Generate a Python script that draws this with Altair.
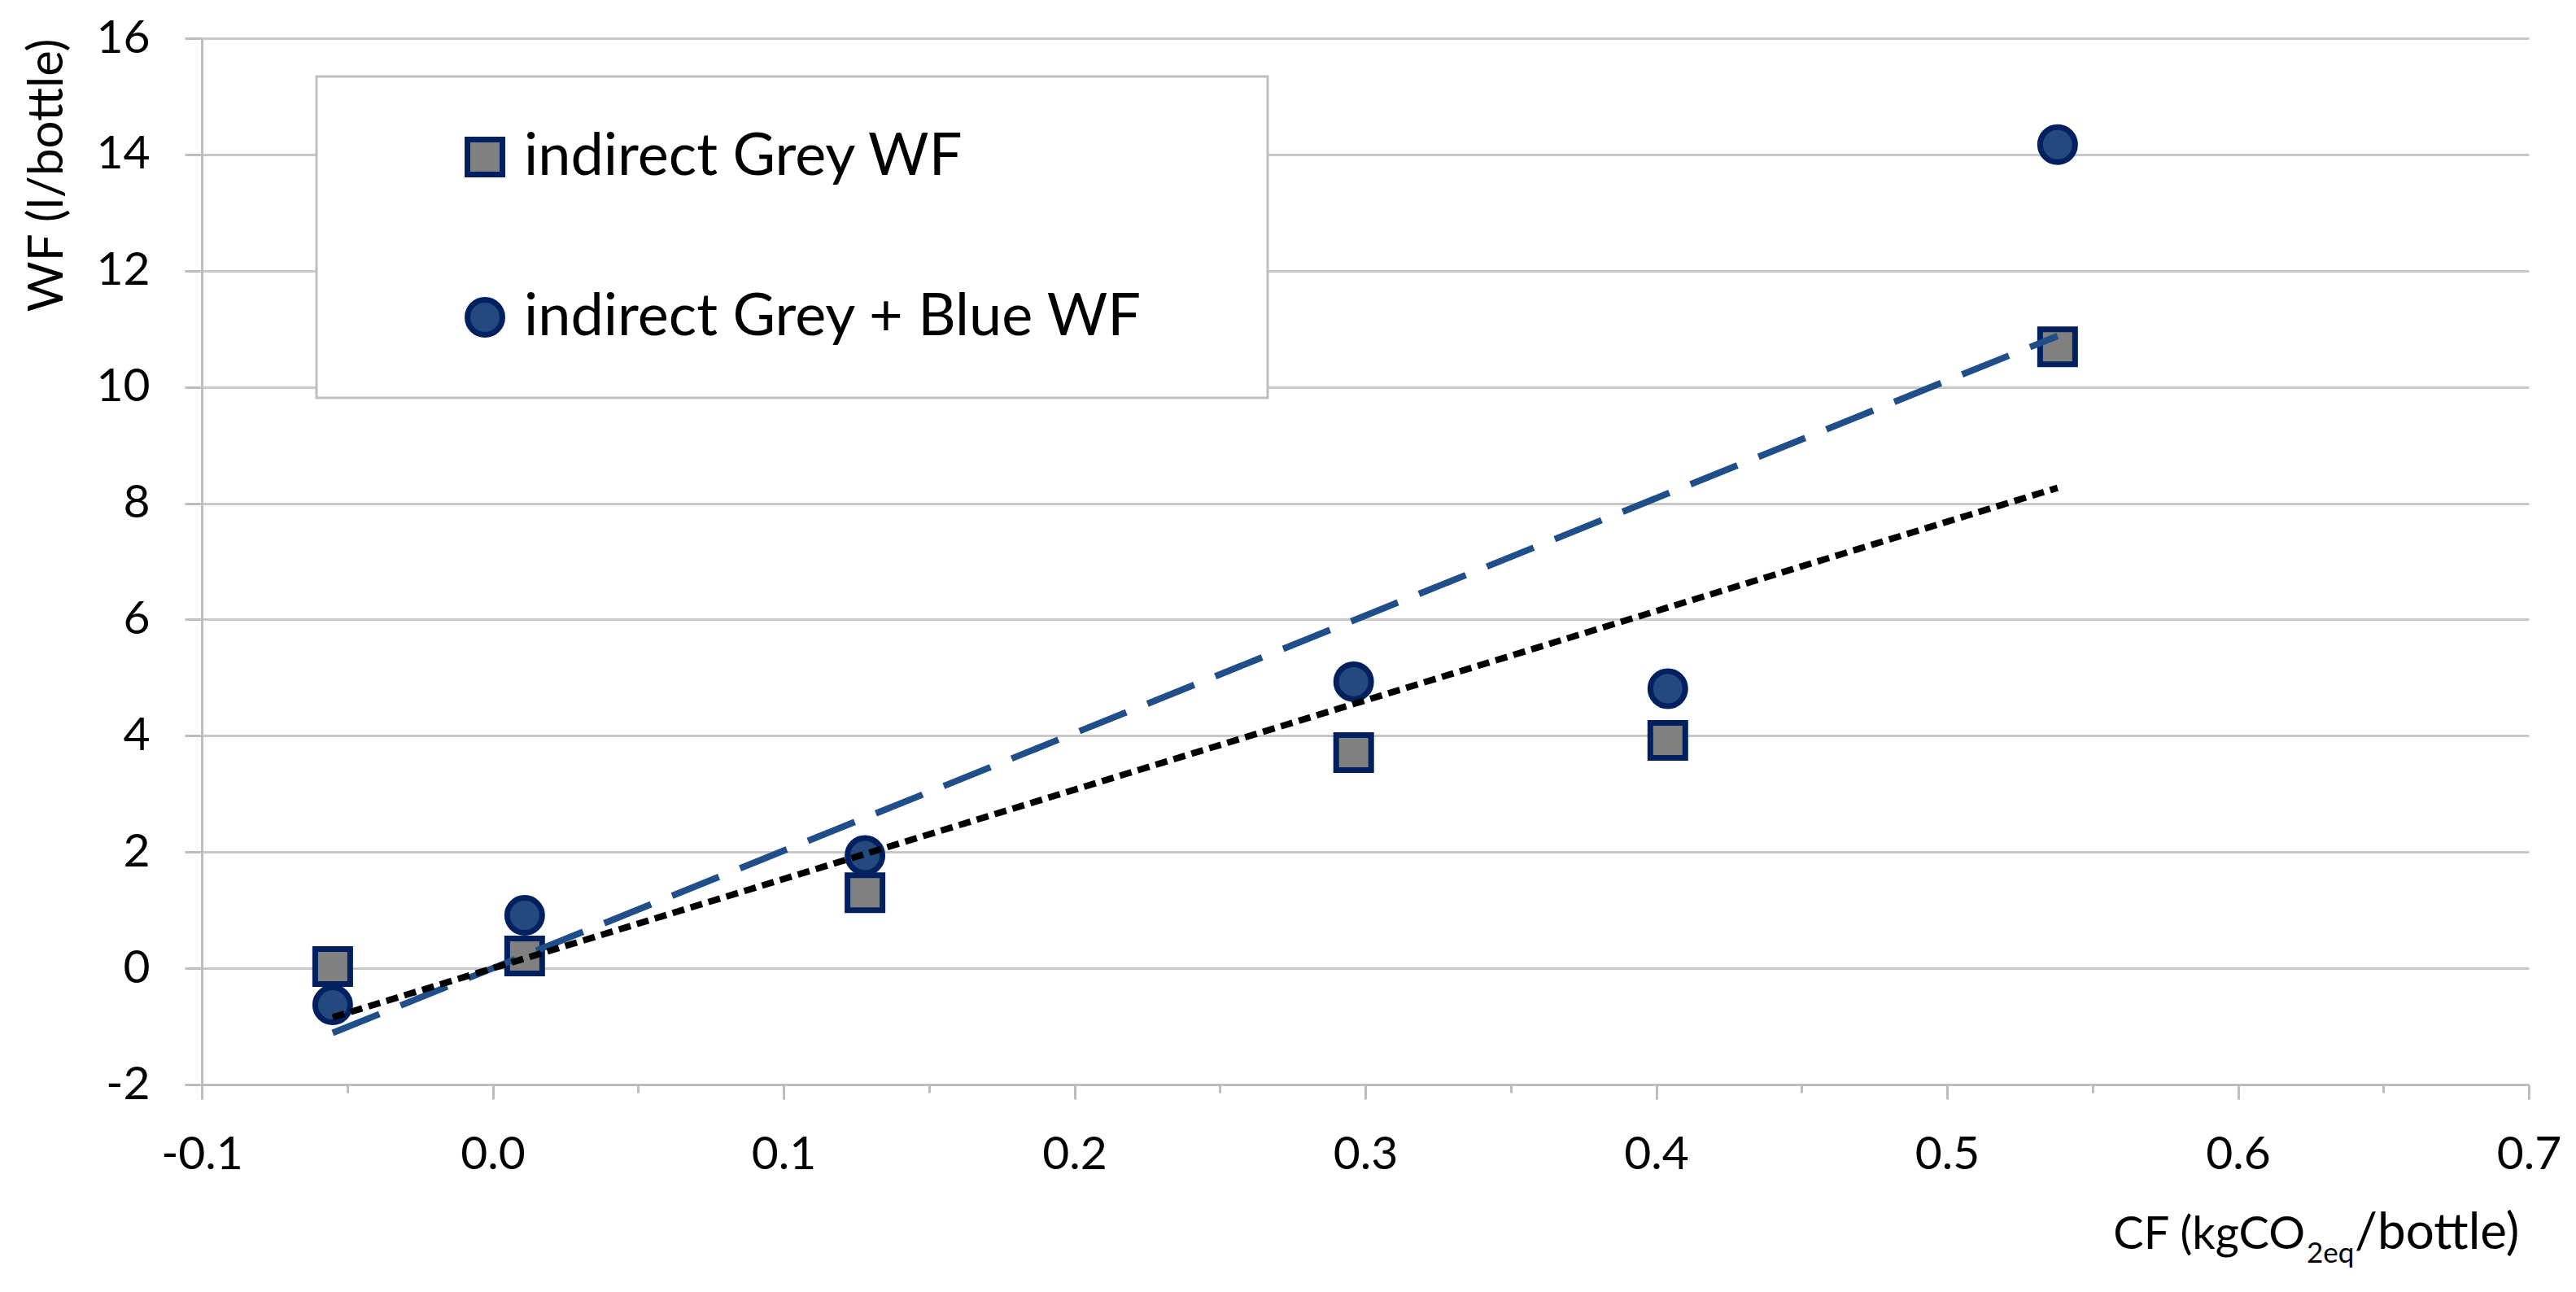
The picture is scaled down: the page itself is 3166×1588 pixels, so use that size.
import altair as alt
import pandas as pd

# ---- data ----
series_names = ["indirect Grey WF", "indirect Grey + Blue WF"]
fit_names = ["trend of indirect Grey WF", "trend of indirect Grey + Blue WF"]
cf_values = [-0.055, 0.011, 0.128, 0.296, 0.404, 0.538]
grey_wf = [0.03, 0.21, 1.30, 3.71, 3.92, 10.69]
grey_blue_wf = [-0.63, 0.91, 1.94, 4.93, 4.81, 14.17]

x_ticks = [-0.1, -0.05, 0.0, 0.05, 0.1, 0.15, 0.2, 0.25, 0.3, 0.35,
           0.4, 0.45, 0.5, 0.55, 0.6, 0.65, 0.7]
y_ticks = [-2, 0, 2, 4, 6, 8, 10, 12, 14, 16]

x_title_parts = ["CF (kgCO", "2eq", "/bottle)"]
y_title = "WF (l/bottle)"

FONT = "Lato"
NAVY = "#002060"
GREY_FILL = "#808080"
BLUE_FILL = "#23497F"
DASH_BLUE = "#1F4E89"
AXIS_GREY = "#BDBDBD"

W, H = 2860, 1286

# circles first so that squares are painted over them
rows = []
for x, y in zip(cf_values, grey_blue_wf):
    rows.append({"series": series_names[1], "fit_series": fit_names[1], "cf": x, "wf": y, "ord": 1})
for x, y in zip(cf_values, grey_wf):
    rows.append({"series": series_names[0], "fit_series": fit_names[0], "cf": x, "wf": y, "ord": 0})
df = pd.DataFrame(rows)

x_scale = alt.Scale(domain=[-0.1, 0.7], nice=False, zero=False)
y_scale = alt.Scale(domain=[-2, 16], nice=False, zero=False)

major_test = "abs(round(datum.value*20)) % 2 == 0"

x_axis = alt.Axis(
    values=x_ticks,
    grid=False,
    title=None,
    labelExpr=f"{major_test} ? replace(format(datum.value, '.1f'), '\u2212', '-') : ''",
    labelFont=FONT, labelFontSize=57, labelColor="#000000",
    labelPadding=40,
    tickSize={"condition": {"test": major_test, "value": 18}, "value": 10},
    tickColor=AXIS_GREY, tickWidth=3,
    domainColor=AXIS_GREY, domainWidth=3,
    labelFlush=False, labelOverlap=False,
)
y_axis = alt.Axis(
    values=y_ticks,
    grid=True, gridColor="#C8C8C8", gridWidth=3,
    title=y_title, titleFont=FONT, titleFontSize=60, titleFontWeight="normal",
    titleColor="#000000", titleAnchor="end", titlePadding=28,
    labelExpr="replace(format(datum.value, 'd'), '\u2212', '-')",
    labelFont=FONT, labelFontSize=57, labelColor="#000000", labelPadding=43,
    tickSize=21, tickColor=AXIS_GREY, tickWidth=3,
    domainColor=AXIS_GREY, domainWidth=3,
)

# trailing room after the labels so the legend box is as wide as the reference's
legend_spec = dict(title=None, labelExpr="datum.label + '\u2003\u2002\u200b'")

base = alt.Chart(df)

points = base.mark_point(
    filled=True, strokeWidth=7, size=1849, opacity=1
).encode(
    x=alt.X("cf:Q", scale=x_scale, axis=x_axis),
    y=alt.Y("wf:Q", scale=y_scale, axis=y_axis),
    shape=alt.Shape("series:N",
                    scale=alt.Scale(domain=series_names, range=["square", "circle"]),
                    legend=alt.Legend(**legend_spec)),
    fill=alt.Fill("series:N",
                  scale=alt.Scale(domain=series_names, range=[GREY_FILL, BLUE_FILL]),
                  legend=alt.Legend(**legend_spec)),
    stroke=alt.Stroke("series:N",
                      scale=alt.Scale(domain=series_names, range=[NAVY, NAVY]),
                      legend=alt.Legend(**legend_spec)),
    order=alt.Order("ord:Q", sort="descending"),
)

trend = base.transform_calculate(
    xy="datum.cf*datum.wf", xx="datum.cf*datum.cf"
).transform_joinaggregate(
    sxy="sum(xy)", sxx="sum(xx)", groupby=["fit_series"]
).transform_calculate(
    fit="datum.cf*datum.sxy/datum.sxx"
).mark_line(strokeWidth=8).encode(
    x=alt.X("cf:Q", scale=x_scale),
    y=alt.Y("fit:Q", scale=y_scale),
    color=alt.Color("fit_series:N",
                    scale=alt.Scale(domain=fit_names, range=["#000000", DASH_BLUE]),
                    legend=None),
    strokeDash=alt.StrokeDash("fit_series:N",
                              scale=alt.Scale(domain=fit_names, range=[[15, 8], [62, 28]]),
                              legend=None),
)

title_a = alt.Chart(pd.DataFrame({"t": [x_title_parts[0]]})).mark_text(
    font=FONT, fontSize=56, align="right", baseline="alphabetic", color="#000000"
).encode(text="t:N", x=alt.value(2585), y=alt.value(1488))
title_b = alt.Chart(pd.DataFrame({"t": [x_title_parts[1]]})).mark_text(
    font=FONT, fontSize=35, align="left", baseline="alphabetic", color="#000000"
).encode(text="t:N", x=alt.value(2587), y=alt.value(1505))
title_c = alt.Chart(pd.DataFrame({"t": [x_title_parts[2]]})).mark_text(
    font=FONT, fontSize=62, align="left", baseline="alphabetic", color="#000000"
).encode(text="t:N", x=alt.value(2646), y=alt.value(1488))

chart = alt.layer(points, trend, title_a, title_b, title_c).properties(
    width=W, height=H,
    autosize=alt.AutoSizeParams(type="none"),
    padding={"left": 240, "top": 39, "right": 50, "bottom": 247},
    background="white",
).configure_view(stroke=None).configure_legend(
    orient="none", legendX=141, legendY=47,
    padding=63, rowPadding=125, symbolOffset=108, labelOffset=12,
    labelFont=FONT, labelFontSize=72, labelColor="#000000", labelLimit=3000,
    symbolSize=1849, symbolStrokeWidth=7, symbolStrokeColor=NAVY, symbolOpacity=1,
    fillColor="white", strokeColor="#BFBFBF", strokeWidth=3, cornerRadius=0,
)

chart.save("out.html", embed_options={"renderer": "svg", "actions": False})
